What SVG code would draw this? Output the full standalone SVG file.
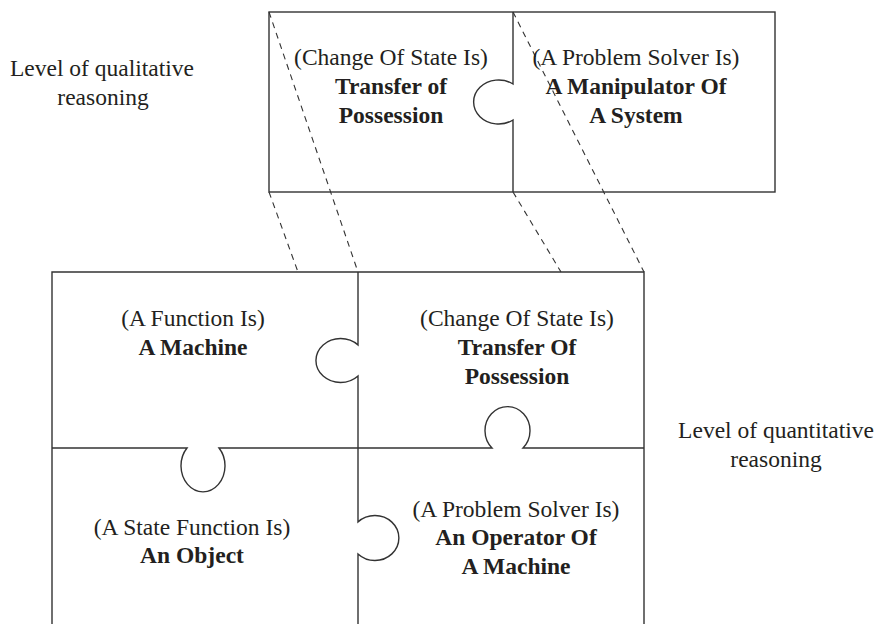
<svg xmlns="http://www.w3.org/2000/svg" width="877" height="624" viewBox="0 0 877 624">
  <style>
    .edge { fill: none; stroke: #333; stroke-width: 1.4; }
    .proj { fill: none; stroke: #333; stroke-width: 1.1; stroke-dasharray: 6 5; }
    text { font-family: 'Liberation Serif', 'DejaVu Serif', 'Times New Roman', serif; font-size: 23.5px; fill: #231f20; text-anchor: middle; }
    .b { font-weight: bold; }
  </style>
  <rect width="877" height="624" fill="#fff"/>

  <!-- side labels -->
  <g id="label-qualitative">
    <text x="102" y="76">Level of qualitative</text>
    <text x="103" y="105">reasoning</text>
  </g>
  <g id="label-quantitative">
    <text x="776" y="438">Level of quantitative</text>
    <text x="776" y="467">reasoning</text>
  </g>

  <!-- projection lines between the two puzzles -->
  <g id="connectors">
    <line class="proj" x1="269" y1="12" x2="358" y2="272"/>
    <line class="proj" x1="269" y1="192" x2="298" y2="272"/>
    <line class="proj" x1="513" y1="12" x2="644" y2="272"/>
    <line class="proj" x1="513" y1="192" x2="561" y2="272"/>
  </g>

  <!-- upper puzzle: outline and divider -->
  <g id="upper-frame">
    <rect class="edge" x="269" y="12" width="506" height="180"/>
    <path class="edge" d="M513,12 V84 A25,22 0 1 0 513,120 V192"/>
  </g>
  <g id="upper-left">
    <text x="391" y="65">(Change Of State Is)</text>
    <text class="b" x="391" y="94">Transfer of</text>
    <text class="b" x="391" y="123">Possession</text>
  </g>
  <g id="upper-right">
    <text x="636" y="65">(A Problem Solver Is)</text>
    <text class="b" x="636" y="94">A Manipulator Of</text>
    <text class="b" x="636" y="123">A System</text>
  </g>

  <!-- lower puzzle: outline and dividers -->
  <g id="lower-frame">
    <path class="edge" d="M52,630 V272 H644 V630"/>
    <path class="edge" d="M358,272 V345 A24.6,22 0 1 0 358,376 V522 A24,22.5 0 1 1 358,554 V630"/>
    <path class="edge" d="M52,448 H187 A22,26 0 1 0 219,448 H492 A22.5,24 0 1 1 523,448 H644"/>
  </g>
  <g id="lower-top-left">
    <text x="193" y="326">(A Function Is)</text>
    <text class="b" x="193" y="355">A Machine</text>
  </g>
  <g id="lower-top-right">
    <text x="517" y="326">(Change Of State Is)</text>
    <text class="b" x="517" y="355">Transfer Of</text>
    <text class="b" x="517" y="384">Possession</text>
  </g>
  <g id="lower-bottom-left">
    <text x="192" y="535">(A State Function Is)</text>
    <text class="b" x="192" y="563">An Object</text>
  </g>
  <g id="lower-bottom-right">
    <text x="516" y="517">(A Problem Solver Is)</text>
    <text class="b" x="516" y="545">An Operator Of</text>
    <text class="b" x="516" y="574">A Machine</text>
  </g>
</svg>
